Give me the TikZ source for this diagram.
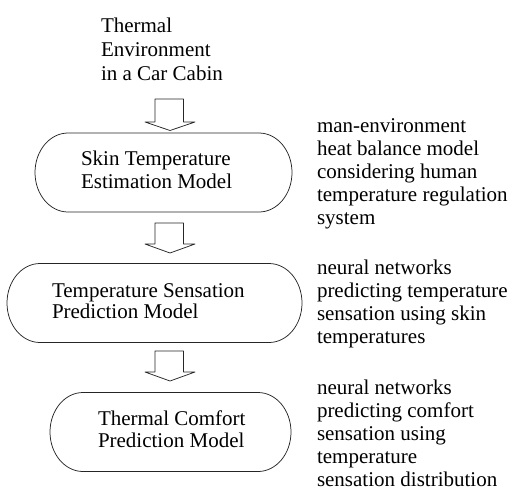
\documentclass[tikz,border=0pt]{standalone}
\usepackage{fontspec}
\setmainfont{Liberation Serif}
\begin{document}
\begin{tikzpicture}[x=1pt,y=1pt,
  every node/.style={font=\fontsize{21}{23}\selectfont, inner sep=0pt, outer sep=0pt},
  outline/.style={draw=none, inner sep=0pt, minimum height=79pt},
  txt/.style={align=left, anchor=base west},
  stroke/.style={draw=black!85, line width=0.75pt, line join=round}]
\useasboundingbox (0,0) rectangle (513,-493);

% source text (anchor = baseline of last line)
\node[txt, font=\fontsize{21}{24}\selectfont] (src) at (101,-80) {Thermal\\Environment\\in a Car Cabin};

% boxes (outlines)
\node[outline, minimum width=257pt] (b1) at (163.5,-172.5) {};
\node[outline, minimum width=295pt] (b2) at (154.5,-303) {};
\node[outline, minimum width=241pt] (b3) at (170.5,-432) {};
\foreach \n in {b1,b2,b3}{
  \draw[stroke] ([xshift=33pt]\n.north west) -- ([xshift=-33pt]\n.north east)
    arc[start angle=90, end angle=-90, x radius=33pt, y radius=39.5pt]
    -- ([xshift=33pt]\n.south west)
    arc[start angle=270, end angle=90, x radius=33pt, y radius=39.5pt] -- cycle;
}

% box texts
\node[txt] (t1) at (81,-188) {Skin Temperature\\Estimation Model};
\node[txt, font=\fontsize{21}{21.5}\selectfont] (t2) at (52,-318.5) {Temperature Sensation\\Prediction Model};
\node[txt, font=\fontsize{21}{22}\selectfont] (t3) at (98,-447) {Thermal Comfort\\Prediction Model};

% notes
\node[txt] (n1) at (317,-224) {man-environment\\heat balance model\\considering human\\temperature regulation\\system};
\node[txt, font=\fontsize{21}{22.7}\selectfont] (n2) at (317,-343) {neural networks\\predicting temperature\\sensation using skin\\temperatures};
\node[txt, font=\fontsize{21}{22.8}\selectfont] (n3) at (317,-486) {neural networks\\predicting comfort\\sensation using\\temperature\\sensation distribution};

% block arrows
\foreach \top/\base/\tip in {99/122/130.5, 223/244/253, 351/372/381}{
  \draw[stroke, fill=white] (155,-\top) -- (183.5,-\top) -- (183.5,-\base) -- (195,-\base)
    -- (170,-\tip) -- (145,-\base) -- (155,-\base) -- cycle;
}
\end{tikzpicture}
\end{document}
